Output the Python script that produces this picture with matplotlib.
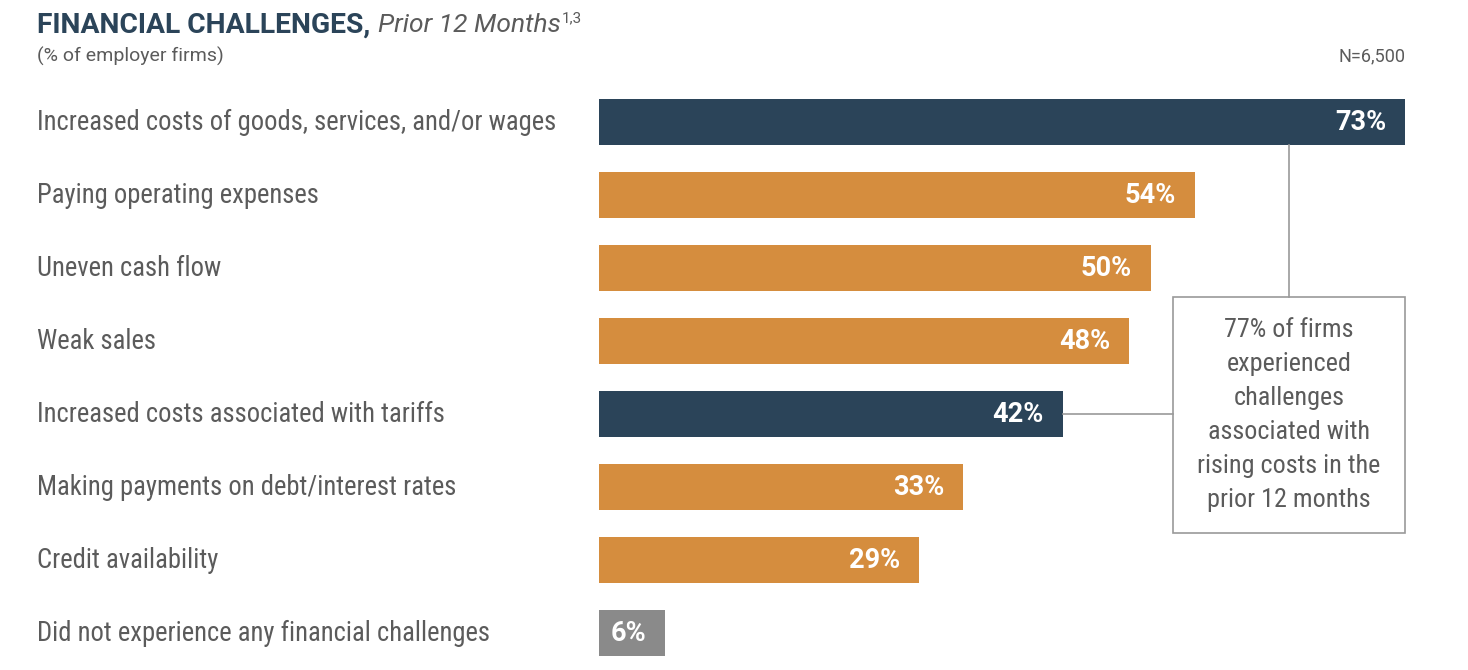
import matplotlib
matplotlib.use("Agg")
import matplotlib.pyplot as plt
from matplotlib.patches import Rectangle

NAVY = "#2B4459"
ORANGE = "#D58D3E"
GRAY = "#8A8A8A"
TEXT = "#5B5B5B"

categories = [
    "Increased costs of goods, services, and/or wages",
    "Paying operating expenses",
    "Uneven cash flow",
    "Weak sales",
    "Increased costs associated with tariffs",
    "Making payments on debt/interest rates",
    "Credit availability",
    "Did not experience any financial challenges",
]
values = [73, 54, 50, 48, 42, 33, 29, 6]
groups = ["cost", "other", "other", "other", "cost", "other", "other", "none"]
group_colors = {"cost": NAVY, "other": ORANGE, "none": GRAY}

note_text = "77% of firms\nexperienced\nchallenges\nassociated with\nrising costs in the\nprior 12 months"

COND = ["Roboto Condensed", "Roboto", "DejaVu Sans"]

fig = plt.figure(figsize=(14.68, 6.70), dpi=100)
ax = fig.add_axes([599 / 1468, 0.0007, (1405 - 599) / 1468, 0.8716])

ypos = list(range(len(categories)))
colors = [group_colors[g] for g in groups]
ax.barh(ypos, values, height=0.63, color=colors)
ax.set_xlim(0, 73)
ax.set_ylim(len(categories) - 0.5, -0.5)
ax.axis("off")

# value labels inside bars, right aligned
for y, v in zip(ypos, values):
    ax.annotate(f"{v}%", (v, y), xytext=(-19, 0), textcoords="offset pixels",
                ha="right", va="center", color="white", fontsize=19.5,
                fontweight="bold", family="Roboto")

# category labels on the left
for y, c in zip(ypos, categories):
    ax.annotate(c, (0, y), xycoords=("figure pixels", "data"),
                xytext=(37, 0), textcoords="offset pixels",
                ha="left", va="center", color=TEXT, fontsize=19.2, family=COND)

# callout box with connectors
bx0, bx1, by0, by1 = 52.0, 73.0, 2.40, 5.63
ax.add_patch(Rectangle((bx0, by0), bx1 - bx0, by1 - by0, fill=False,
                       edgecolor="#9A9A9A", linewidth=1.2, clip_on=False))
cx = (bx0 + bx1) / 2
ax.plot([cx, cx], [0.315, by0], color="#9A9A9A", linewidth=1.2)
ax.plot([values[4], bx0], [4, 4], color="#9A9A9A", linewidth=1.2)
ax.text(cx, (by0 + by1) / 2, note_text, ha="center", va="center",
        color=TEXT, fontsize=18.8, family=COND, linespacing=1.53)

# title
fig.canvas.draw()
r = fig.canvas.get_renderer()
t1 = fig.text(37 / 1468, 1 - 25 / 670, "FINANCIAL CHALLENGES,", ha="left",
              va="center", color=NAVY, fontsize=20.3, fontweight="bold",
              family="Roboto")
bb = t1.get_window_extent(r)
t2 = fig.text((bb.x1 + 8) / 1468, 1 - 25 / 670, "Prior 12 Months", ha="left",
              va="center", color=TEXT, fontsize=19, style="italic",
              family="Roboto")
bb2 = t2.get_window_extent(r)
fig.text((bb2.x1 + 1) / 1468, 1 - 18 / 670, "1,3", ha="left", va="center",
         color=TEXT, fontsize=11, family="Roboto")
fig.text(37 / 1468, 1 - 56 / 670, "(% of employer firms)", ha="left",
         va="center", color=TEXT, fontsize=14, family="Roboto")
fig.text(1405 / 1468, 1 - 56 / 670, "N=6,500", ha="right", va="center",
         color=TEXT, fontsize=13, family="Roboto")

fig.savefig("out.png", dpi=100, facecolor="white")
